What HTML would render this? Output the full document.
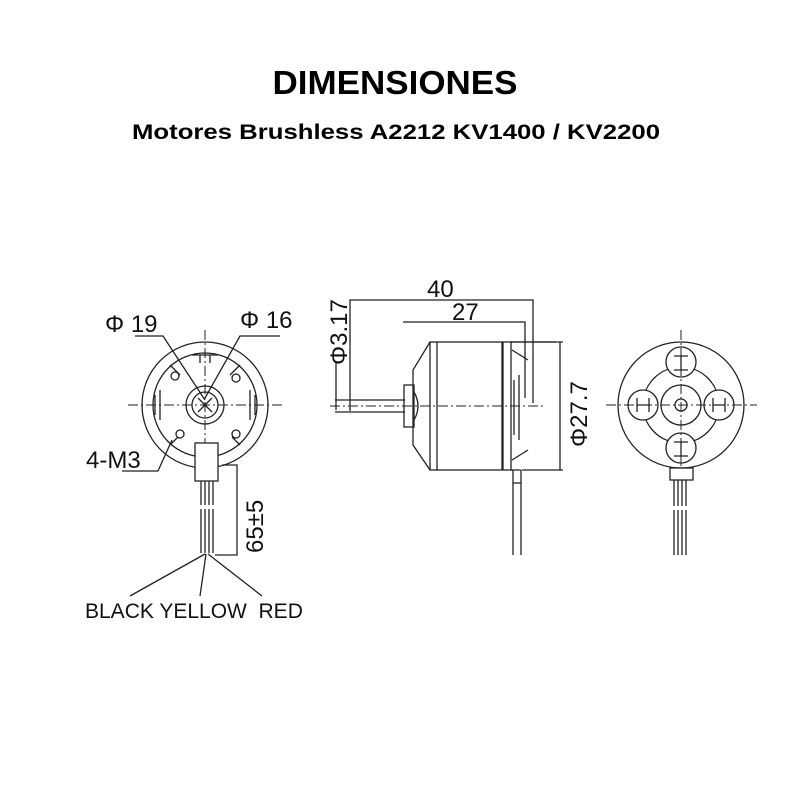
<!DOCTYPE html>
<html><head><meta charset="utf-8"><style>
html,body{margin:0;padding:0;background:#fff}
svg{display:block}
text{font-family:"Liberation Sans",sans-serif}
</style></head><body>
<svg width="800" height="800" viewBox="0 0 800 800" xmlns="http://www.w3.org/2000/svg">
<rect width="800" height="800" fill="#fff"/>
<text x="395" y="94" text-anchor="middle" font-weight="bold" font-size="33" textLength="245" lengthAdjust="spacingAndGlyphs">DIMENSIONES</text>
<text x="396" y="139" text-anchor="middle" font-weight="bold" font-size="21" textLength="528" lengthAdjust="spacingAndGlyphs">Motores Brushless A2212 KV1400 / KV2200</text>

<g fill="none" stroke="#222" stroke-width="1.3">
<circle cx="205" cy="405" r="63"/>
<circle cx="205" cy="405" r="52"/>
<circle cx="205" cy="405" r="19"/>
<circle cx="205" cy="405" r="13"/>
<path d="M198 398 l14 14 M212 398 l-14 14"/>
<circle cx="175" cy="376" r="4"/><circle cx="236" cy="378" r="4"/>
<circle cx="180" cy="434" r="4"/><circle cx="236" cy="434" r="4"/>
<path d="M192 355 h26 M200 355 v8 M210 355 v8"/>
<path d="M155 395 v20 M160 390 v30 M250 390 v30 M255 395 v20"/>
<path d="M170 365 l10 10 M240 365 l-10 10 M170 445 l8 -8 M240 445 l-8 -8"/>
<line x1="205" y1="330" x2="205" y2="470" stroke-dasharray="10 3 2 3" stroke-width="1"/>
<line x1="128" y1="405" x2="285" y2="405" stroke-dasharray="10 3 2 3" stroke-width="1"/>
<rect x="195" y="443" width="23" height="38" fill="#fff"/>
<path d="M201 481 v24 M205 481 v24 M209 481 v24 M213 481 v24 M201 509 v44 M205 509 v44 M209 509 v44 M213 509 v44"/>
<path d="M222 465 h15 v90 h-22"/>
<path d="M135 336 h28 L205 400 M280 336 h-40 L205 398 M122 471 h36 L172 440"/>
<path d="M205 554 L130 596 M206 554 L200 596 M208 554 L262 596"/>

<path d="M335 400 h70 M335 412 h70" />
<line x1="330" y1="406" x2="545" y2="406" stroke-dasharray="10 3 2 3" stroke-width="1"/>
<rect x="404" y="385" width="10" height="42"/>
<path d="M414 392 q8 14 0 28"/>
<path d="M430 342 L413 370 V445 L430 470"/>
<rect x="430" y="342" width="72" height="128"/>
<path d="M437 342 V470"/>
<rect x="503" y="342" width="8" height="128"/>
<path d="M511 342 h45 M511 470 h10 M512 350 L528 360 M512 460 L528 450 M514 380 v55 M519 375 v65"/>
<path d="M513 470 v85 M521 470 v85 M513 483 h8"/>
<path d="M510 342 h53 M522 470 h41 M560 342 V470"/>
<path d="M350 411 V300 H533 V403 M336 410 V362 M403 322 H525 V398"/>

<circle cx="681" cy="405" r="63"/>
<circle cx="681" cy="405" r="38"/>
<circle cx="681" cy="405" r="20"/>
<circle cx="681" cy="405" r="6"/>
<circle cx="681" cy="362" r="15" fill="#fff"/>
<circle cx="643" cy="405" r="15" fill="#fff"/>
<circle cx="719" cy="405" r="15" fill="#fff"/>
<circle cx="681" cy="448" r="15" fill="#fff"/>
<path d="M674 356 h14 M681 356 v14 M674 370 h14 M674 442 h14 M681 442 v14 M674 456 h14 M637 398 v14 M637 405 h12 M649 398 v14 M713 398 v14 M713 405 h12 M725 398 v14"/>
<line x1="681" y1="330" x2="681" y2="480" stroke-dasharray="10 3 2 3" stroke-width="1"/>
<line x1="606" y1="405" x2="757" y2="405" stroke-dasharray="10 3 2 3" stroke-width="1"/>
<rect x="670" y="468" width="23" height="12" fill="#fff"/>
<path d="M674 480 v26 M678 480 v26 M682 480 v26 M686 480 v26 M674 510 v45 M678 510 v45 M682 510 v45 M686 510 v45"/>
</g>

<g font-size="24" fill="#111">
<text x="105" y="332">Φ 19</text>
<text x="240" y="328">Φ 16</text>
<text x="86" y="468">4-M3</text>
<text x="85" y="618" font-size="21">BLACK YELLOW&#160;&#160;RED</text>
<text x="427" y="297">40</text>
<text x="452" y="320">27</text>
<text transform="translate(347,365) rotate(-90)">Φ3.17</text>
<text transform="translate(587,447) rotate(-90)">Φ27.7</text>
<text transform="translate(263,553) rotate(-90)">65±5</text>
</g>
</svg>
</body></html>
